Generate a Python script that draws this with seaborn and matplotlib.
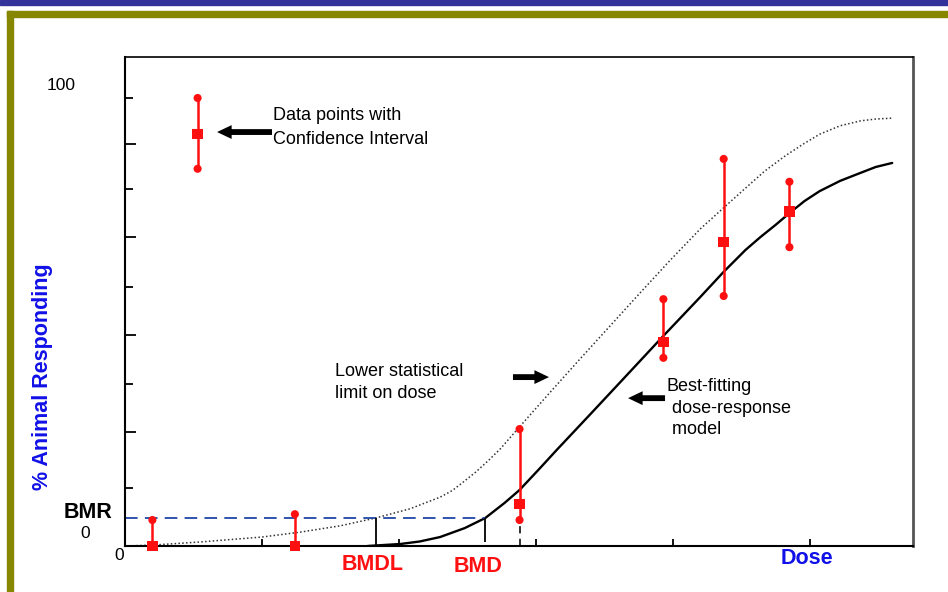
import matplotlib
matplotlib.use('Agg')
import matplotlib.pyplot as plt
from matplotlib.patches import Rectangle
import seaborn as sns
import pandas as pd

# fitted dose-response curve
fit_dose = [1.77, 2.01, 2.15, 2.30, 2.48, 2.63, 2.77, 2.88, 3.03, 3.15, 3.39,
            3.61, 3.93, 4.20, 4.37, 4.53, 4.64, 4.75, 4.85, 4.96, 5.07, 5.22,
            5.37, 5.48, 5.60]
fit_resp = [0.0, 0.45, 1.0, 2.0, 4.0, 6.25, 9.6, 12.5, 17.4, 21.4, 29.2,
            36.4, 46.9, 55.6, 61.2, 66.1, 69.0, 71.7, 74.3, 77.0, 79.2, 81.5,
            83.3, 84.6, 85.5]

# lower confidence limit curve (dotted)
lcl_dose = [0.0, 0.20, 0.55, 1.00, 1.28, 1.57, 1.83, 2.08, 2.30, 2.39, 2.47,
            2.56, 2.65, 2.74, 2.88, 3.10, 3.32, 3.54, 3.76, 3.98, 4.20, 4.37,
            4.53, 4.67, 4.82, 4.95, 5.07, 5.22, 5.37, 5.48, 5.60]
lcl_resp = [0.0, 0.2, 0.9, 2.0, 3.1, 4.5, 6.25, 8.3, 10.9, 12.4, 14.3,
            16.5, 19.0, 21.7, 26.6, 34.2, 41.7, 49.1, 56.5, 63.8, 70.8, 75.5,
            79.9, 83.7, 87.1, 89.7, 91.9, 93.8, 94.9, 95.3, 95.5]

# observed data with confidence intervals
obs_dose = [0.20, 1.24, 2.88, 3.93, 4.37, 4.85]
obs_mean = [0.0, 0.0, 9.4, 45.5, 67.9, 74.6]
obs_low = [0.0, 0.0, 5.8, 42.0, 55.8, 66.7]
obs_high = [5.8, 7.1, 26.1, 55.1, 86.4, 81.3]

# example point next to the "Data points" note
key_dose, key_mean, key_low, key_high = 0.53, 92.0, 84.2, 100.0

bmr = 6.25
bmdl = 1.83
bmd = 2.63

ytick_major = [89.7, 69.0, 47.1, 25.4]
ytick_minor = [100.0, 79.7, 57.8, 36.2, 12.9]
xticks = [1, 2, 3, 4, 5]

sns.set_style('white')
plt.rcParams['font.family'] = ['Liberation Sans', 'DejaVu Sans']
plt.rcParams['text.color'] = 'black'

fig = plt.figure(figsize=(9.48, 5.92), dpi=100)
# slide decoration
fig.patches.append(Rectangle((0, 1 - 5 / 592), 1, 5 / 592, transform=fig.transFigure,
                             color='#333399', zorder=0))
fig.patches.append(Rectangle((7 / 948, 1 - 17 / 592), 1, 6 / 592, transform=fig.transFigure,
                             color='#868600', zorder=0))
fig.patches.append(Rectangle((7 / 948, 0), 6 / 948, 1 - 11 / 592, transform=fig.transFigure,
                             color='#868600', zorder=0))

ax = fig.add_axes([125 / 948, 46 / 592, 788 / 948, 489 / 592])
ax.set_xlim(0, 5.752)
ax.set_ylim(0, 109.15)

red = '#ff1010'

sns.lineplot(x=lcl_dose, y=lcl_resp, ax=ax, color='#333333', lw=1.1,
             linestyle=(0, (1, 1.5)), sort=False)
sns.lineplot(x=fit_dose, y=fit_resp, ax=ax, color='black', lw=1.7, sort=False)

# BMR / BMDL / BMD construction lines
ax.hlines(bmr, 0, bmd, color='#1f47a8', lw=1.3, linestyles=(0, (7, 4)))
ax.vlines(bmdl, 0, bmr, color='black', lw=1.3)
ax.vlines(bmd, 0.8, bmr, color='black', lw=1.3)
ax.vlines(obs_dose[2], 0, obs_low[2], color='#222222', lw=1.3, linestyles=(0, (4, 3)))

# confidence intervals
ax.vlines(obs_dose + [key_dose], obs_low + [key_low], obs_high + [key_high],
          color=red, lw=1.8, zorder=3)
ends = pd.DataFrame({'dose': obs_dose * 2 + [key_dose] * 2,
                     'resp': obs_low + obs_high + [key_low, key_high]})
ends = ends[ends['resp'] > 0]
sns.scatterplot(data=ends, x='dose', y='resp', ax=ax, color=red, s=34,
                edgecolor='none', marker='o', zorder=4, clip_on=False)
means = pd.DataFrame({'dose': obs_dose + [key_dose], 'resp': obs_mean + [key_mean]})
sns.scatterplot(data=means, x='dose', y='resp', ax=ax, color=red, s=58,
                edgecolor='none', marker='s', zorder=5, clip_on=False)

# annotation arrows
arrow = dict(arrowstyle='simple,head_length=1.0,head_width=0.95,tail_width=0.4',
             mutation_scale=10.5, fc='black', ec='none', lw=0,
             shrinkA=0, shrinkB=0)
ax.annotate('', xy=(0.672, 92.4), xytext=(1.073, 92.4), arrowprops=arrow)
ax.annotate('', xy=(3.095, 37.7), xytext=(2.832, 37.7), arrowprops=arrow)
ax.annotate('', xy=(3.672, 33.0), xytext=(3.942, 33.0), arrowprops=arrow)

ax.text(1.08, 93.4, 'Data points with\nConfidence Interval', fontsize=13,
        va='center', ha='left', linespacing=1.5)
ax.text(1.533, 36.5, 'Lower statistical\nlimit on dose', fontsize=13,
        va='center', ha='left', linespacing=1.33)
ax.text(3.956, 30.8, 'Best-fitting\n dose-response\n model', fontsize=13,
        va='center', ha='left', linespacing=1.38)

# axis labels drawn as free text
ax.text(-0.467, 102.7, '100', fontsize=12.5, ha='center', va='center', clip_on=False)
ax.text(-0.288, 2.9, '0', fontsize=12.5, ha='center', va='center', clip_on=False)
ax.text(-0.04, -2.2, '0', fontsize=12.5, ha='center', va='center', clip_on=False)
ax.text(-0.27, 7.4, 'BMR', fontsize=15.5, fontweight='bold', ha='center',
        va='center', clip_on=False)
ax.text(1.81, -4.2, 'BMDL', fontsize=15.5, fontweight='bold', color=red,
        ha='center', va='center', clip_on=False)
ax.text(2.577, -4.5, 'BMD', fontsize=15.5, fontweight='bold', color=red,
        ha='center', va='center', clip_on=False)
ax.text(4.978, -2.7, 'Dose', fontsize=15.5, fontweight='bold', color='#1010e8',
        ha='center', va='center', clip_on=False)
ax.text(-0.6, 37.7, '% Animal Responding', fontsize=15.5, fontweight='bold',
        color='#1010e8', rotation=90, ha='center', va='center', clip_on=False)

ax.set_xticks(xticks)
ax.set_yticks(ytick_major)
ax.set_yticks(ytick_minor, minor=True)
ax.set_xticklabels([])
ax.set_yticklabels([])
ax.set_xlabel('')
ax.set_ylabel('')
ax.tick_params(axis='x', direction='in', length=5, width=1.3, color='black', bottom=True)
ax.tick_params(axis='y', which='major', direction='in', length=8, width=1.3,
               color='black', left=True)
ax.tick_params(axis='y', which='minor', direction='in', length=5.8, width=1.3,
               color='black', left=True)
for side in ['left', 'bottom']:
    ax.spines[side].set_color('black')
    ax.spines[side].set_linewidth(1.5)
ax.spines['top'].set_color('black')
ax.spines['top'].set_linewidth(1.2)
ax.spines['right'].set_color('#555555')
ax.spines['right'].set_linewidth(2)

fig.savefig('out.png', dpi=100)
